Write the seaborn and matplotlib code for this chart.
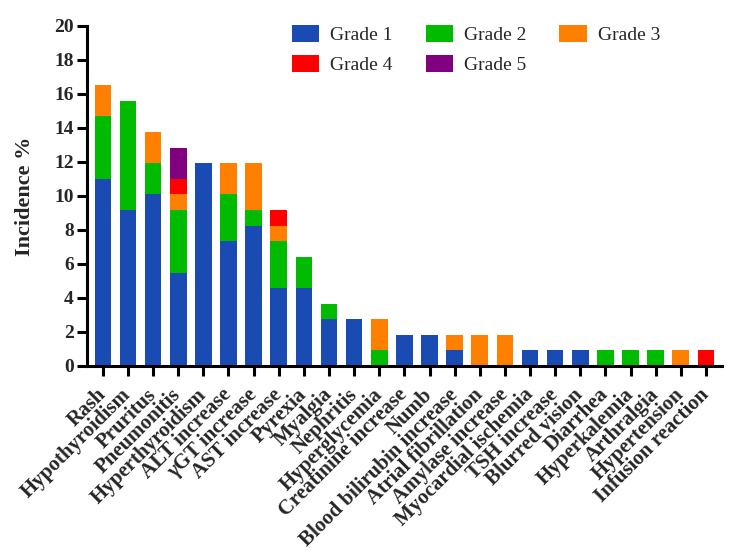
import matplotlib
matplotlib.use("Agg")
import matplotlib.pyplot as plt
import seaborn as sns
import numpy as np
import pandas as pd
from matplotlib.patches import Patch

categories = ["Rash", "Hypothyroidism", "Pruritus", "Pneumonitis", "Hyperthyroidism",
              "ALT increase", "γGT increase", "AST increase", "Pyrexia", "Myalgia",
              "Nephritis", "Hyperglycemia", "Creatinine increase", "Numb",
              "Blood bilirubin increase", "Atrial fibrillation", "Amylase increase",
              "Myocardial ischemia", "TSH increase", "Blurred vision", "Diarrhea",
              "Hyperkalemia", "Arthralgia", "Hypertension", "Infusion reaction"]

grade1 = [11.01, 9.17, 10.09, 5.50, 11.93, 7.34, 8.26, 4.59, 4.59, 2.75,
          2.75, 0, 1.83, 1.83, 0.92, 0, 0, 0.92, 0.92, 0.92,
          0, 0, 0, 0, 0]
grade2 = [3.67, 6.42, 1.83, 3.67, 0, 2.75, 0.92, 2.75, 1.83, 0.92,
          0, 0.92, 0, 0, 0, 0, 0, 0, 0, 0,
          0.92, 0.92, 0.92, 0, 0]
grade3 = [1.83, 0, 1.83, 0.92, 0, 1.83, 2.75, 0.92, 0, 0,
          0, 1.83, 0, 0, 0.92, 1.83, 1.83, 0, 0, 0,
          0, 0, 0, 0.92, 0]
grade4 = [0, 0, 0, 0.92, 0, 0, 0, 0.92, 0, 0,
          0, 0, 0, 0, 0, 0, 0, 0, 0, 0,
          0, 0, 0, 0, 0.92]
grade5 = [0, 0, 0, 1.83, 0, 0, 0, 0, 0, 0,
          0, 0, 0, 0, 0, 0, 0, 0, 0, 0,
          0, 0, 0, 0, 0]

grade_names = ["Grade 1", "Grade 2", "Grade 3", "Grade 4", "Grade 5"]
colors = ["#1A4BB3", "#00BB00", "#FF8000", "#FF0000", "#800080"]

sns.set_style("ticks")
plt.rcParams["font.family"] = ["Liberation Serif", "DejaVu Serif"]

fig = plt.figure(figsize=(7.34, 5.56), dpi=100)
ax = fig.add_axes([87 / 734, 1 - 366 / 556, (722 - 87) / 734, (366 - 26) / 556])

series = [np.array(g, dtype=float) for g in (grade1, grade2, grade3, grade4, grade5)]
cums = np.cumsum(np.vstack(series), axis=0)

# draw from top-most grade down so lower segments sit on top
for k in range(4, -1, -1):
    vals = np.where(series[k] > 0, cums[k], np.nan)
    df = pd.DataFrame({"cat": categories, "val": vals})
    sns.barplot(data=df, x="cat", y="val", order=categories, color=colors[k],
                saturation=1, width=0.66, linewidth=0, ax=ax, errorbar=None)

ax.set_xlim(-0.63, 24.64)
ax.set_ylim(0, 20)
ax.set_yticks(range(0, 21, 2))
ax.set_xlabel("")
ax.set_ylabel("Incidence %", fontsize=16, fontweight="bold", labelpad=14)

for s in ["top", "right"]:
    ax.spines[s].set_visible(False)
for s in ["left", "bottom"]:
    ax.spines[s].set_linewidth(2.2)
    ax.spines[s].set_color("black")
ax.tick_params(axis="both", direction="out", length=7.5, width=2.2, color="black",
               labelsize=14, pad=2)
ax.tick_params(axis="x", pad=11)
for lab in ax.get_yticklabels():
    lab.set_fontweight("bold")
ax.set_xticks(range(len(categories)))
ax.set_xticklabels(categories, rotation=45, ha="right", va="center",
                   rotation_mode="anchor", fontweight="bold", fontsize=15)

# legend laid out row-wise like the reference (matplotlib fills column-wise)
order = [0, 3, 1, 4, 2]
handles = [Patch(facecolor=colors[i], edgecolor="none") for i in order]
labels = [grade_names[i] for i in order]
leg = fig.legend(handles, labels, loc="upper left",
                 bbox_to_anchor=(282 / 734, 1 - 15 / 556), ncol=3, frameon=False,
                 fontsize=14, handlelength=1.4, handleheight=1.0, borderpad=0,
                 handletextpad=0.57, columnspacing=1.7, labelspacing=0.55)

fig.savefig("out.png", dpi=100)
